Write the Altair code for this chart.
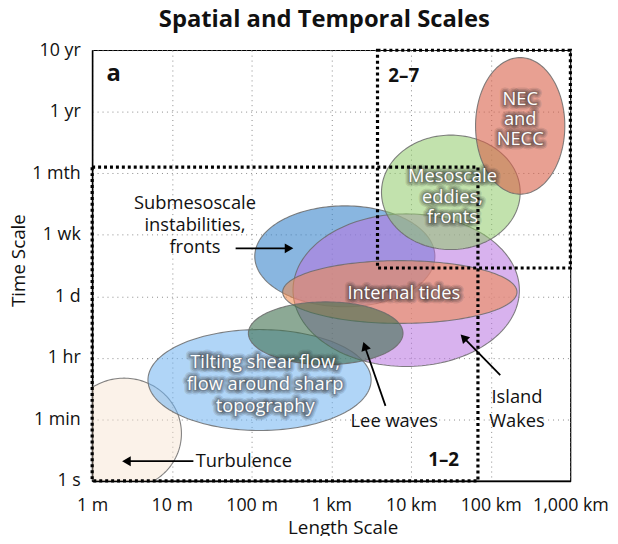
import json
import altair as alt
import pandas as pd

# ---- axis ticks (x: log10 metres, y: ordinal time-scale steps) ----
x_ticks = [0, 1, 2, 3, 4, 5, 6]
x_labels = ["1 m", "10 m", "100 m", "1 km", "10 km", "100 km", "1,000 km"]
y_ticks = [0, 1, 2, 3, 4, 5, 6, 7]
y_labels = ["1 s", "1 min", "1 hr", "1 d", "1 wk", "1 mth", "1 yr", "10 yr"]

# ---- phenomena ellipses (centre / half-extent in axis units) ----
names = ["Turbulence", "Tilting shear flow", "Submesoscale", "Island wakes",
         "Internal tides", "Lee waves", "Mesoscale eddies", "NEC and NECC"]
cx = [0.40, 2.10, 3.17, 3.94, 3.86, 2.93, 4.50, 5.37]
cy = [0.77, 1.64, 3.65, 3.10, 3.07, 2.40, 4.69, 5.77]
rx = [0.72, 1.40, 1.13, 1.42, 1.47, 0.97, 0.87, 0.56]
ry = [0.90, 0.82, 0.82, 1.24, 0.51, 0.51, 0.93, 1.11]
fills = ["#f6e2cf", "#6fb3f0", "#3a86cc", "#b872e0",
         "#f08c50", "#3f6f4f", "#8fcb6a", "#d9604a"]
fill_op = [0.45, 0.55, 0.6, 0.55, 0.58, 0.6, 0.55, 0.6]

# ---- dotted regions ----
box_x1 = [0.0, 3.58]
box_x2 = [4.84, 6.0]
box_y1 = [0.0, 3.46]
box_y2 = [5.10, 7.0]

# ---- annotations (y = first line) ----
dark_text = ["Submesoscale\ninstabilities,\nfronts", "Turbulence", "Lee waves", "Island\nWakes"]
dark_x = [1.29, 1.30, 3.79, 5.33]
dark_y = [4.52, 0.32, 0.98, 1.37]
dark_align = ["center", "left", "center", "center"]
dark_lh = [22.5, 22.5, 22.5, 25]

white_text = ["NEC\nand\nNECC", "Mesoscale\neddies,\nfronts", "Internal tides",
              "Tilting shear flow,\nflow around sharp\ntopography"]
white_x = [5.37, 4.52, 3.91, 2.17]
white_y = [6.21, 4.95, 3.05, 1.93]
white_lh = [20.5, 20.5, 20.5, 22]

bold_text = ["a", "2–7", "1–2"]
bold_x = [0.27, 3.91, 4.41]
bold_y = [6.61, 6.58, 0.34]
bold_size = [24, 19, 19]

arrow_x1 = [1.80, 1.27, 3.68, 5.12]
arrow_y1 = [3.78, 0.32, 1.22, 1.72]
arrow_x2 = [2.47, 0.43, 3.42, 4.66]
arrow_y2 = [3.78, 0.32, 2.19, 2.33]
arrow_angle = [90, 270, 341, 316]

FONT = "Open Sans"
xscale = alt.Scale(domain=[0, 6], nice=False, zero=False)
yscale = alt.Scale(domain=[0, 7], nice=False, zero=False)

x_expr = json.dumps(x_labels) + "[datum.value]"
y_expr = json.dumps(y_labels) + "[datum.value]"

xaxis = alt.Axis(values=x_ticks, labelExpr=x_expr, title="Length Scale",
                 labelFlush=False, labelOverlap=False, labelPadding=16,
                 titleX=253, titlePadding=4)
yaxis = alt.Axis(values=y_ticks, labelExpr=y_expr, title="Time Scale",
                 labelOverlap=False, labelPadding=12,
                 titleX=-74, titleY=212, titleBaseline="middle", titleAlign="center")


def X(field):
    return alt.X(field, type="quantitative", scale=xscale, axis=xaxis)


def Y(field):
    return alt.Y(field, type="quantitative", scale=yscale, axis=yaxis)


layers = []

# ellipses, drawn through a generated angle sequence
for i in range(len(names)):
    e = alt.Chart(alt.sequence(0, 181, 2, as_="t")).transform_calculate(
        ex=f"{cx[i]} + {rx[i]} * cos(datum.t * PI / 180)",
        ey=f"{cy[i]} + {ry[i]} * sin(datum.t * PI / 180)",
        ey2=f"{cy[i]} - {ry[i]} * sin(datum.t * PI / 180)",
    ).mark_area(
        fill=fills[i], fillOpacity=fill_op[i], stroke="#6b6b6b",
        strokeWidth=1.1, strokeOpacity=0.85, clip=True
    ).encode(x=X("ex"), y=Y("ey"), y2=alt.Y2("ey2"))
    layers.append(e)

# dotted boxes
boxes = pd.DataFrame({"x1": box_x1, "x2": box_x2, "y1": box_y1, "y2": box_y2})
layers.append(
    alt.Chart(boxes).mark_rect(
        fill=None, fillOpacity=0, stroke="black", strokeWidth=3.2, strokeDash=[3, 3]
    ).encode(x=X("x1"), x2="x2", y=Y("y1"), y2="y2")
)

# arrows
arrows = pd.DataFrame({"x1": arrow_x1, "y1": arrow_y1, "x2": arrow_x2,
                       "y2": arrow_y2, "ang": arrow_angle})
layers.append(
    alt.Chart(arrows).mark_rule(color="black", strokeWidth=1.8).encode(
        x=X("x1"), y=Y("y1"), x2="x2", y2="y2")
)
layers.append(
    alt.Chart(arrows).mark_point(shape="triangle-up", filled=True, color="black",
                                 size=100, opacity=1).encode(
        x=X("x2"), y=Y("y2"), angle=alt.Angle("ang:Q", scale=None))
)

# dark annotations
dark = pd.DataFrame({"t": dark_text, "x": dark_x, "y": dark_y,
                     "al": dark_align, "lh": dark_lh})
for i in range(len(dark_text)):
    layers.append(
        alt.Chart(dark.iloc[[i]]).mark_text(
            font=FONT, fontSize=18.5, color="#111", align=dark_align[i],
            baseline="middle", lineBreak="\n", lineHeight=dark_lh[i]
        ).encode(x=X("x"), y=Y("y"), text="t:N")
    )

# white labels with a soft dark glow
white = pd.DataFrame({"t": white_text, "x": white_x, "y": white_y})
for i in range(len(white_text)):
    row = white.iloc[[i]]
    for sw, so in [(9, 0.12), (6, 0.18), (3, 0.25)]:
        layers.append(
            alt.Chart(row).mark_text(
                font=FONT, fontSize=18.5, fill="#2a2a2a", fillOpacity=0.2,
                stroke="#2a2a2a", strokeWidth=sw, strokeOpacity=so, strokeJoin="round",
                align="center", baseline="middle", lineBreak="\n", lineHeight=white_lh[i]
            ).encode(x=X("x"), y=Y("y"), text="t:N")
        )
    layers.append(
        alt.Chart(row).mark_text(
            font=FONT, fontSize=18.5, color="white", align="center", baseline="middle",
            lineBreak="\n", lineHeight=white_lh[i]
        ).encode(x=X("x"), y=Y("y"), text="t:N")
    )

# bold panel labels
bold = pd.DataFrame({"t": bold_text, "x": bold_x, "y": bold_y, "s": bold_size})
layers.append(
    alt.Chart(bold).mark_text(
        font=FONT, fontWeight="bold", color="#111", align="center", baseline="middle"
    ).encode(x=X("x"), y=Y("y"), text="t:N", size=alt.Size("s:Q", scale=None))
)

chart = alt.layer(*layers).properties(
    width=483, height=435,
    title=alt.TitleParams("Spatial and Temporal Scales", font=FONT, fontSize=24,
                          fontWeight="bold", color="#111", dx=-7, offset=9),
    autosize=alt.AutoSizeParams(type="none"),
    padding={"left": 85, "top": 40, "right": 40, "bottom": 53},
).configure_view(
    stroke="black", strokeWidth=1.2
).configure_axis(
    labelFont=FONT, labelFontSize=18, labelColor="#111",
    titleFont=FONT, titleFontSize=19, titleFontWeight="normal", titleColor="#111",
    domainColor="black", domainWidth=1.5, ticks=False,
    grid=True, gridColor="#8a8a8a", gridDash=[1, 4], gridWidth=1, gridOpacity=1
)

chart.save("out.html", embed_options={"renderer": "svg", "actions": False})
